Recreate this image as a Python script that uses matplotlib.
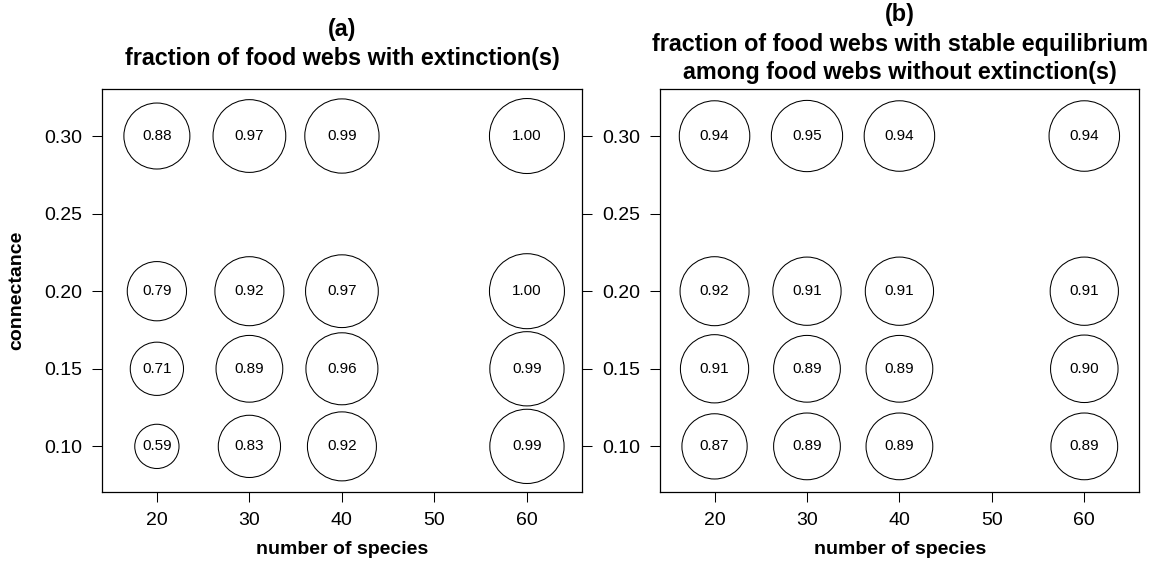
import matplotlib
matplotlib.use("Agg")
import matplotlib.pyplot as plt

# ---------------------------------------------------------------
# Data
# ---------------------------------------------------------------

species = [20, 30, 40, 60]
connectance = [0.30, 0.20, 0.15, 0.10]

# rows follow connectance, columns follow species
extinction = [
    [0.88, 0.97, 0.99, 1.00],
    [0.79, 0.92, 0.97, 1.00],
    [0.71, 0.89, 0.96, 0.99],
    [0.59, 0.83, 0.92, 0.99],
]
stable = [
    [0.94, 0.95, 0.94, 0.94],
    [0.92, 0.91, 0.91, 0.91],
    [0.91, 0.89, 0.89, 0.90],
    [0.87, 0.89, 0.89, 0.89],
]

x_ticks = [20, 30, 40, 50, 60]
y_ticks = [0.10, 0.15, 0.20, 0.25, 0.30]

title_a = ["(a)", "fraction of food webs with extinction(s)"]
title_b = ["(b)", "fraction of food webs with stable equilibrium",
           "among food webs without extinction(s)"]

# ---------------------------------------------------------------
# Style
# ---------------------------------------------------------------

plt.rcParams['font.family'] = ['Liberation Sans', 'DejaVu Sans']

W, H = 1159, 562
DPI = 100
RADIUS_PX = 37.5          # circle radius (px) for a value of 1.0
TICK_PX = 10
LINE_PX = 29              # spacing of title lines


def px2pt(px):
    return px * 72.0 / DPI


def bubble_panel(ax, values, title_lines, right_ticks):
    xs, ys, ss, labels = [], [], [], []
    for i, c in enumerate(connectance):
        for j, n in enumerate(species):
            v = values[i][j]
            xs.append(n)
            ys.append(c)
            ss.append(px2pt(2 * RADIUS_PX * v) ** 2)
            labels.append("%.2f" % v)

    ax.scatter(xs, ys, s=ss, facecolors='none', edgecolors='black',
               linewidths=0.75, zorder=2)
    for x, y, t in zip(xs, ys, labels):
        ax.text(x, y, t, ha='center', va='center', fontsize=11, zorder=3)

    ax.set_xlim(14.1, 65.95)
    ax.set_ylim(0.0706, 0.3303)
    ax.set_xticks(x_ticks)
    ax.set_yticks(y_ticks)
    ax.set_yticklabels(["%.2f" % t for t in y_ticks])
    ax.tick_params(axis='both', direction='out', length=px2pt(TICK_PX),
                   width=0.75, labelsize=14, pad=px2pt(10))
    ax.tick_params(axis='y', right=right_ticks, labelright=False)
    for sp in ax.spines.values():
        sp.set_linewidth(0.9)

    ax.set_xlabel("number of species", fontsize=14, fontweight='bold',
                  labelpad=px2pt(12))

    # title lines centred as a block above the box
    bbox = ax.get_position()
    cx = (bbox.x0 + bbox.x1) / 2
    n = len(title_lines)
    center_px = 44
    for k, line in enumerate(title_lines):
        y_px = center_px + (k - (n - 1) / 2) * LINE_PX
        ax.figure.text(cx, 1 - y_px / H, line, ha='center', va='center',
                       fontsize=16.8, fontweight='bold')


fig = plt.figure(figsize=(W / DPI, H / DPI), dpi=DPI)
ax_a = fig.add_axes([102.3 / W, (H - 492) / H, 479.7 / W, 403 / H])
ax_b = fig.add_axes([660 / W, (H - 492) / H, 479.3 / W, 403 / H])

bubble_panel(ax_a, extinction, title_a, right_ticks=True)
bubble_panel(ax_b, stable, title_b, right_ticks=False)

fig.text(16.7 / W, 1 - 290.5 / H, "connectance", rotation=90, ha='center',
         va='center', fontsize=14, fontweight='bold')

fig.savefig("out.png", dpi=DPI)
